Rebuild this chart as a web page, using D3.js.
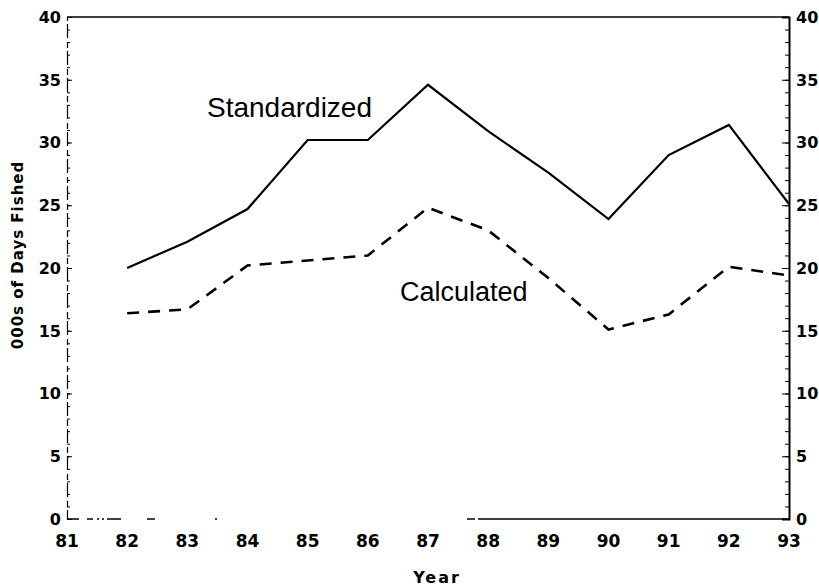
<!DOCTYPE html>
<html>
<head>
<meta charset="utf-8">
<script src="https://cdn.jsdelivr.net/npm/d3@7"></script>
<style>
  body { margin: 0; background: #fff; }
  text { font-family: "Liberation Sans", Arial, Helvetica, sans-serif; fill: #000; }
  .bold { font-family: "DejaVu Sans", sans-serif; font-weight: bold; }
</style>
</head>
<body>
<div id="chart"></div>
<script>
// Width and height
var chart_width  = 819;
var chart_height = 586;

// data
var years        = [82, 83, 84, 85, 86, 87, 88, 89, 90, 91, 92, 93];
var standardized = [20.0, 22.1, 24.7, 30.2, 30.2, 34.6, 30.9, 27.6, 23.9, 29.0, 31.4, 25.1];
var calculated   = [16.4, 16.7, 20.2, 20.6, 21.0, 24.8, 23.0, 19.2, 15.1, 16.3, 20.1, 19.4];
var x_ticks      = [81, 82, 83, 84, 85, 86, 87, 88, 89, 90, 91, 92, 93];
var y_ticks      = [0, 5, 10, 15, 20, 25, 30, 35, 40];
var y_minor      = d3.range(0, 41, 1);

// plot box (don't call these top/left: window.top is read-only)
var plot_left = 67, plot_right = 789, plot_top = 17, plot_bottom = 519;

var x = d3.scaleLinear().domain([81, 93]).range([plot_left, plot_right]);
var y = d3.scaleLinear().domain([0, 40]).range([plot_bottom, plot_top]);

var svg = d3.select("#chart")
  .append("svg")
  .attr("width", chart_width)
  .attr("height", chart_height);

// frame: top line solid, bottom line broken like the scan
svg.append("line")
  .attr("x1", plot_left).attr("x2", plot_right)
  .attr("y1", plot_top).attr("y2", plot_top)
  .attr("stroke", "#000").attr("stroke-width", 1.5);

svg.append("line")
  .attr("x1", plot_left).attr("x2", plot_right)
  .attr("y1", plot_bottom).attr("y2", plot_bottom)
  .attr("stroke", "#000").attr("stroke-width", 1.5)
  .attr("stroke-dasharray", "12,8,6,4,2,3,2,3,14,26,8,60,2,250,8,3,330");

// left axis (ticks point in)
svg.append("g")
  .attr("transform", "translate(" + plot_left + ",0)")
  .call(d3.axisRight(y).tickValues(y_ticks).tickSize(5).tickFormat(""))
  .call(function(g){
    g.select(".domain").attr("stroke-width", 1.2).attr("stroke-dasharray", "14,3,6,4");
  });

svg.append("g")
  .attr("transform", "translate(" + plot_left + ",0)")
  .call(d3.axisRight(y).tickValues(y_minor).tickSize(3).tickFormat(""))
  .call(function(g){ g.select(".domain").remove(); });

// right axis (ticks point in)
svg.append("g")
  .attr("transform", "translate(" + plot_right + ",0)")
  .call(d3.axisLeft(y).tickValues(y_ticks).tickSize(7).tickFormat(""))
  .call(function(g){ g.select(".domain").attr("stroke-width", 2); });

svg.append("g")
  .attr("transform", "translate(" + plot_right + ",0)")
  .call(d3.axisLeft(y).tickValues(y_minor).tickSize(4).tickFormat(""))
  .call(function(g){ g.select(".domain").remove(); });

// tick labels
svg.selectAll(".ylabL")
  .data(y_ticks).enter()
  .append("text")
  .attr("class", "bold")
  .attr("x", 61)
  .attr("y", function(d){ return y(d); })
  .attr("dy", "0.36em")
  .attr("text-anchor", "end")
  .style("font-size", "16px")
  .text(function(d){ return d; });

svg.selectAll(".ylabR")
  .data(y_ticks).enter()
  .append("text")
  .attr("class", "bold")
  .attr("x", 796)
  .attr("y", function(d){ return y(d); })
  .attr("dy", "0.36em")
  .attr("text-anchor", "start")
  .style("font-size", "16px")
  .text(function(d){ return d; });

svg.selectAll(".xlab")
  .data(x_ticks).enter()
  .append("text")
  .attr("class", "bold")
  .attr("x", function(d){ return x(d); })
  .attr("y", 547)
  .attr("text-anchor", "middle")
  .style("font-size", "17px")
  .text(function(d){ return d; });

// axis titles
svg.append("text")
  .attr("class", "bold")
  .attr("x", 437).attr("y", 583)
  .attr("text-anchor", "middle")
  .style("font-size", "16px")
  .style("letter-spacing", "2px")
  .text("Year");

svg.append("text")
  .attr("class", "bold")
  .attr("transform", "translate(23,255) rotate(-90)")
  .attr("text-anchor", "middle")
  .style("font-size", "15px")
  .style("letter-spacing", "1px")
  .text("000s of Days Fished");

// lines
var line = d3.line()
  .x(function(d){ return x(d[0]); })
  .y(function(d){ return y(d[1]); });

svg.append("path")
  .datum(d3.zip(years, standardized))
  .attr("d", line)
  .attr("fill", "none")
  .attr("stroke", "#000")
  .attr("stroke-width", 2.2)
  .attr("stroke-linejoin", "miter");

svg.append("path")
  .datum(d3.zip(years, calculated))
  .attr("d", line)
  .attr("fill", "none")
  .attr("stroke", "#000")
  .attr("stroke-width", 2.6)
  .attr("stroke-dasharray", "12,9");

// series labels
svg.append("text")
  .attr("x", 207).attr("y", 117)
  .style("font-size", "28px")
  .text("Standardized");

svg.append("text")
  .attr("x", 400).attr("y", 301)
  .style("font-size", "27px")
  .text("Calculated");
</script>
</body>
</html>
